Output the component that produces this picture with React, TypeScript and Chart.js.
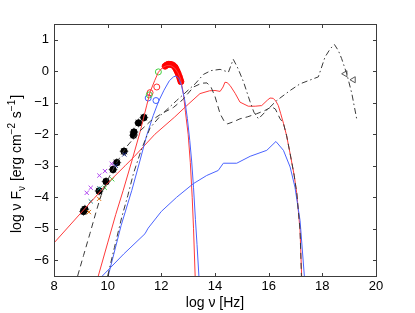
import React, { useEffect, useRef } from "react";
import { Chart, registerables } from "chart.js";

Chart.register(...registerables);

const FONT = "'Liberation Sans', Arial, Helvetica, sans-serif";

// axis ticks
const xTicks = [8, 10, 12, 14, 16, 18, 20];
const yTicks = [-6, -5, -4, -3, -2, -1, 0, 1];

// model curves
const redWideX = [8, 9, 9.5, 10, 10.65, 11.0, 11.76, 12.5, 13.0, 13.44, 13.8, 14.0, 14.19, 14.3, 14.37, 14.45, 14.56, 14.75, 14.93, 15.24, 15.5, 15.74, 15.95, 16.05, 16.17, 16.27, 16.36, 16.45, 16.55, 16.67, 16.8, 16.95, 17.05, 17.17, 17.23, 17.26];
const redWideY = [-5.45, -4.5, -4.03, -3.55, -3.0, -2.7, -2.0, -1.45, -1.05, -0.71, -0.62, -0.61, -0.64, -0.5, -0.35, -0.36, -0.45, -0.7, -0.98, -1.11, -1.11, -1.09, -0.92, -0.85, -0.86, -0.95, -1.09, -1.35, -1.65, -2.05, -2.62, -3.3, -3.89, -5.05, -6.5, -7.2];

const redSteepX = [9.65, 10.0, 10.3, 10.58, 10.9, 11.2, 11.33, 11.45, 11.58, 11.75, 11.89, 12.05, 12.2, 12.35, 12.5, 12.62, 12.72, 12.82, 12.9, 13.0, 13.08, 13.15, 13.2, 13.26, 13.3];
const redSteepY = [-6.5, -5.45, -4.55, -3.78, -2.85, -1.95, -1.51, -1.1, -0.66, -0.3, -0.03, 0.12, 0.18, 0.18, 0.1, -0.05, -0.25, -0.7, -1.3, -2.0, -2.9, -4.0, -5.0, -6.5, -7.2];

const blueNarrowX = [10.02, 10.5, 10.9, 11.2, 11.45, 11.7, 11.9, 12.1, 12.3, 12.45, 12.55, 12.65, 12.75, 12.88, 12.97, 13.06, 13.13, 13.2, 13.27, 13.33, 13.4, 13.45];
const blueNarrowY = [-6.5, -4.9, -3.78, -2.85, -2.05, -1.4, -0.95, -0.6, -0.3, -0.18, -0.15, -0.22, -0.45, -0.95, -1.5, -2.2, -2.85, -3.7, -4.7, -5.5, -6.5, -7.2];

const blueWideX = [9.8, 10.6, 11.39, 11.51, 12.0, 12.57, 13.19, 13.69, 14.12, 14.31, 14.81, 15.31, 15.93, 16.27, 16.55, 16.8, 16.98, 17.17, 17.33, 17.37];
const blueWideY = [-6.5, -5.8, -5.16, -4.98, -4.45, -4.0, -3.57, -3.31, -3.15, -2.92, -2.92, -2.7, -2.51, -2.23, -2.51, -3.04, -3.68, -4.74, -6.5, -7.2];

const dashedX = [8.88, 9.1, 9.34, 9.59, 9.75, 10.0, 10.3, 10.7, 11.2, 11.6, 12.0, 12.45, 12.8, 13.2, 13.5, 13.7, 13.85, 14.0, 14.19, 14.35, 14.47, 14.7, 14.93, 15.2, 15.55, 15.85, 16.11, 16.25, 16.42, 16.55, 16.67, 16.8, 16.95, 17.05, 17.17, 17.22, 17.25];
const dashedY = [-6.5, -5.85, -5.15, -4.4, -3.95, -3.45, -2.95, -2.4, -1.9, -1.58, -1.35, -1.15, -0.9, -0.5, -0.38, -0.37, -0.5, -0.8, -1.35, -1.6, -1.67, -1.6, -1.51, -1.45, -1.35, -1.25, -1.13, -1.2, -1.5, -1.65, -2.05, -2.62, -3.3, -3.89, -5.05, -6.5, -7.2];

const dashDotX = [10.0, 10.25, 10.52, 10.75, 10.96, 11.25, 11.58, 12.0, 12.57, 13.0, 13.26, 13.57, 13.85, 14.19, 14.4, 14.5, 14.68, 14.85, 15.06, 15.3, 15.45, 15.62, 15.93, 16.3, 16.8, 17.17, 17.66, 17.85, 18.1, 18.3, 18.45, 18.6, 18.72, 18.91, 19.1, 19.28];
const dashDotY = [-6.5, -5.6, -4.65, -3.95, -3.25, -2.5, -1.8, -1.38, -0.93, -0.6, -0.4, -0.1, 0.02, 0.06, 0.0, -0.03, 0.38, 0.1, -0.33, -0.95, -1.3, -1.51, -1.24, -0.93, -0.61, -0.4, -0.24, -0.18, 0.45, 0.72, 0.85, 0.65, 0.4, -0.08, -0.71, -1.51];

// observed data
const blackX = [9.1, 9.15, 9.68, 9.94, 10.2, 10.34, 10.61, 10.96, 10.98, 11.15, 11.35];
const blackY = [-4.45, -4.38, -3.8, -3.5, -3.12, -2.9, -2.54, -2.03, -1.93, -1.64, -1.47];
const purpleX = [9.22, 9.37, 9.69, 9.9, 10.15];
const purpleY = [-3.86, -3.7, -3.31, -3.17, -2.94];
const greenXX = [9.89, 10.17];
const greenXY = [-3.7, -3.43];
const orangeX = [9.3, 9.68];
const orangeY = [-4.47, -4.05];
const tealX = [9.37, 9.69];
const tealY = [-4.13, -3.72];
const navyX = [10.62, 10.3];
const navyY = [-2.64, -3.0];
const greenOX = [11.89, 11.55];
const greenOY = [-0.02, -0.75];
const redOX = [11.83, 11.58];
const redOY = [-0.5, -0.68];
const blueOX = [11.51, 11.8];
const blueOY = [-0.85, -0.93];
const redDotX = [12.14, 12.2, 12.26, 12.32, 12.39, 12.45, 12.51, 12.55, 12.59, 12.63, 12.67, 12.7, 12.73];
const redDotY = [0.16, 0.2, 0.22, 0.22, 0.21, 0.18, 0.13, 0.07, 0.0, -0.08, -0.17, -0.25, -0.33];
const triX = [18.85, 19.16];
const triY = [-0.08, -0.27];

const pts = (xs: number[], ys: number[]) => xs.map((x, i) => ({ x, y: ys[i] }));

const line = (xs: number[], ys: number[], color: string, dash: number[] = []) => ({
  data: pts(xs, ys),
  showLine: true,
  borderColor: color,
  borderWidth: 1,
  borderDash: dash,
  pointRadius: 0,
  fill: false,
  tension: 0,
});

const marks = (xs: number[], ys: number[], style: string, color: string, r: number, fillColor = "transparent", rot = 0) => ({
  data: pts(xs, ys),
  showLine: false,
  pointStyle: style,
  pointRadius: r,
  pointRotation: rot,
  borderColor: color,
  backgroundColor: fillColor,
  pointBorderWidth: 1,
  pointBackgroundColor: fillColor,
  pointBorderColor: color,
  clip: false,
});

const framePlugin = {
  id: "frame",
  afterDraw(chart: any) {
    const { ctx, chartArea: a, scales } = chart;
    const xs = scales.x;
    const ys = scales.y;
    ctx.save();
    ctx.strokeStyle = "#3c3c3c";
    ctx.lineWidth = 1;
    const L = Math.round(a.left) + 0.5;
    const R = Math.round(a.right) + 0.5;
    const T = Math.round(a.top) + 0.5;
    const B = Math.round(a.bottom) + 0.5;
    ctx.strokeRect(L, T, R - L, B - T);
    const tl = 3.5;
    ctx.beginPath();
    xTicks.forEach((v) => {
      const p = Math.round(xs.getPixelForValue(v)) + 0.5;
      ctx.moveTo(p, B);
      ctx.lineTo(p, B - tl);
      ctx.moveTo(p, T);
      ctx.lineTo(p, T + tl);
    });
    yTicks.forEach((v) => {
      const p = Math.round(ys.getPixelForValue(v)) + 0.5;
      ctx.moveTo(L, p);
      ctx.lineTo(L + tl, p);
      ctx.moveTo(R, p);
      ctx.lineTo(R - tl, p);
    });
    ctx.stroke();

    // x title
    ctx.fillStyle = "#000";
    ctx.font = `14px ${FONT}`;
    ctx.textAlign = "center";
    ctx.textBaseline = "middle";
    ctx.fillText("log \u03bd [Hz]", (a.left + a.right) / 2, 303);

    // y title with sub/superscripts
    const parts: [string, number][] = [
      ["log \u03bd F", 0],
      ["\u03bd", 1],
      [" [erg cm", 0],
      ["\u22122", -1],
      [" s", 0],
      ["\u22121", -1],
      ["]", 0],
    ];
    ctx.translate(16, 233);
    ctx.rotate(-Math.PI / 2);
    ctx.textAlign = "left";
    ctx.textBaseline = "alphabetic";
    let xpos = 0;
    parts.forEach(([t, k]) => {
      ctx.font = k === 0 ? `14px ${FONT}` : `10px ${FONT}`;
      const dy = k === 1 ? 4 : k === -1 ? -6 : 0;
      ctx.fillText(t, xpos, 5 + dy);
      xpos += ctx.measureText(t).width + (k !== 0 ? 1 : 0);
    });
    ctx.restore();
  },
};

export default function App() {
  const ref = useRef<HTMLCanvasElement | null>(null);
  useEffect(() => {
    if (!ref.current) return;
    Chart.defaults.font.family = FONT;
    const chart = new Chart(ref.current, {
      type: "scatter",
      data: {
        datasets: [
          line(dashDotX, dashDotY, "#3a3a3a", [6, 3, 1.5, 3]),
          line(dashedX, dashedY, "#3a3a3a", [6, 4]),
          line(blueWideX, blueWideY, "#4a63ff"),
          line(blueNarrowX, blueNarrowY, "#4a63ff"),
          line(redWideX, redWideY, "#ff3a3a"),
          line(redSteepX, redSteepY, "#ff3a3a"),
          marks(purpleX, purpleY, "crossRot", "#b048f0", 3),
          marks(greenXX, greenXY, "crossRot", "#40d040", 3),
          marks(orangeX, orangeY, "crossRot", "#e07010", 3),
          marks(tealX, tealY, "crossRot", "#208a8a", 3),
          marks(navyX, navyY, "crossRot", "#203090", 3),
          marks(blackX, blackY, "circle", "#000", 3.2, "#000"),
          marks(blackX, blackY, "star", "#8a8a8a", 4.5),
          marks(greenOX, greenOY, "circle", "#40d040", 3),
          marks(redOX, redOY, "circle", "#ff3030", 3),
          marks(blueOX, blueOY, "circle", "#4060ff", 3),
          marks(redDotX, redDotY, "circle", "#ff0000", 3, "#ff0000"),
          marks(triX, triY, "triangle", "#555", 3.5, "transparent", -90),
        ] as any,
      },
      options: {
        animation: false,
        responsive: false,
        events: [],
        layout: { padding: { top: 24, right: 39, left: 0, bottom: 0 } },
        plugins: { legend: { display: false }, tooltip: { enabled: false } },
        scales: {
          x: {
            type: "linear",
            min: 8,
            max: 20,
            afterBuildTicks: (s: any) => {
              s.ticks = xTicks.map((v) => ({ value: v }));
            },
            afterFit: (s: any) => {
              s.height = 37;
            },
            grid: { display: false, drawTicks: false },
            border: { display: false },
            ticks: { color: "#000", font: { size: 13, family: FONT }, padding: 3, maxRotation: 0, autoSkip: false },
          },
          y: {
            type: "linear",
            min: -6.5,
            max: 1.5,
            afterBuildTicks: (s: any) => {
              s.ticks = yTicks.map((v) => ({ value: v }));
            },
            afterFit: (s: any) => {
              s.width = 54;
            },
            grid: { display: false, drawTicks: false },
            border: { display: false },
            ticks: {
              color: "#000",
              font: { size: 13, family: FONT },
              padding: 5,
              callback: (v: any) => (v < 0 ? "\u2212" + Math.abs(v) : String(v)),
            },
          },
        },
      } as any,
      plugins: [framePlugin],
    });
    return () => chart.destroy();
  }, []);
  return (
    <div style={{ position: "absolute", left: 0, top: 0, width: 415, height: 313, background: "#fff" }}>
      <canvas ref={ref} width={415} height={313} style={{ width: 415, height: 313, display: "block" }} />
    </div>
  );
}
